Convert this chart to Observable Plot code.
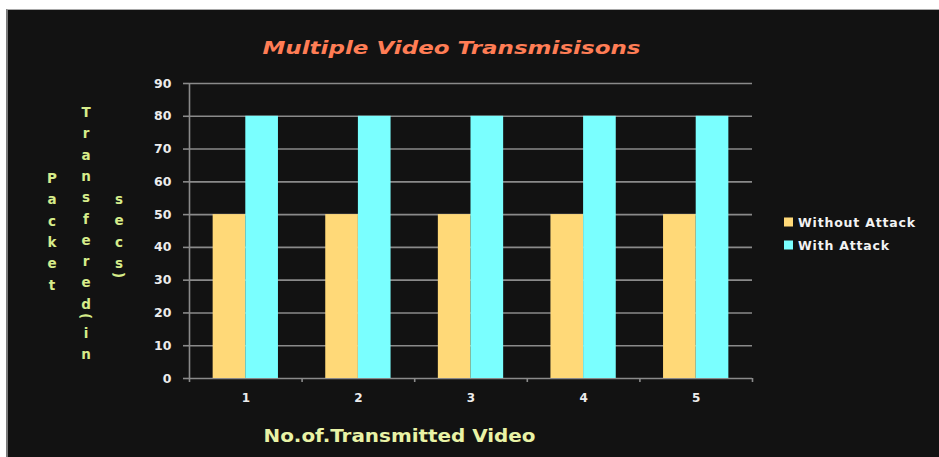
<!DOCTYPE html>
<html>
<head>
<meta charset="utf-8">
<script src="https://cdn.jsdelivr.net/npm/d3@7"></script>
<script src="https://cdn.jsdelivr.net/npm/@observablehq/plot@0.6"></script>
<style>
  html, body { margin: 0; padding: 0; background: #ffffff; }
  #wrap { position: relative; width: 939px; height: 457px; overflow: hidden; }
  #bg { position: absolute; left: 6px; top: 9px; width: 933px; height: 448px; background: #121212;
        border-top: 1px solid #a8a8a8; border-left: 2px solid #7a7a7a; box-sizing: border-box; }
  #chart { position: absolute; left: 0; top: 0; }
</style>
</head>
<body>
<div id="wrap"><div id="bg"></div><div id="chart"></div></div>
<script>
const categories = [1, 2, 3, 4, 5];
const seriesNames = ["Without Attack", "With Attack"];
const withoutAttack = [50, 50, 50, 50, 50];
const withAttack = [80, 80, 80, 80, 80];
const yTicks = [0, 10, 20, 30, 40, 50, 60, 70, 80, 90];
const seriesColors = ["#ffd978", "#7affff"];
const titleText = "Multiple Video Transmisisons";
const xLabel = "No.of.Transmitted Video";
const yLabelColumns = ["Packet", "Transfered(in", "secs)"];

const rows = [];
categories.forEach((c, i) => {
  rows.push({cat: c, series: seriesNames[0], value: withoutAttack[i]});
  rows.push({cat: c, series: seriesNames[1], value: withAttack[i]});
});
const half = 0.29;
const boundaries = categories.map(c => c - 0.5).concat([categories[categories.length - 1] + 0.5]);
const font = "'DejaVu Sans', 'Liberation Sans', sans-serif";

const chart = Plot.plot({
  width: 939,
  height: 457,
  marginLeft: 189,
  marginRight: 187,
  marginTop: 83,
  marginBottom: 79,
  style: {background: "transparent", fontFamily: font},
  x: {domain: [0.5, 5.5], axis: null},
  y: {domain: [0, 90], axis: null},
  color: {domain: seriesNames, range: seriesColors},
  marks: [
    Plot.ruleY(yTicks, {stroke: "#8a8a8a", strokeWidth: 1.6}),
    Plot.axisY(yTicks, {tickSize: 6, tickPadding: 12, stroke: "#8a8a8a", strokeWidth: 1.6,
      fill: "#ececec", fontSize: 12.5, fontWeight: "bold", label: null}),
    Plot.axisX(boundaries, {tickSize: 4, tickFormat: () => "", stroke: "#8a8a8a", strokeWidth: 1.6, label: null}),
    Plot.ruleX([0.5], {y1: 0, y2: 90, stroke: "#8a8a8a", strokeWidth: 1.6}),
    Plot.rectY(rows, {
      x1: d => d.series === seriesNames[0] ? d.cat - half : d.cat,
      x2: d => d.series === seriesNames[0] ? d.cat : d.cat + half,
      y1: 0, y2: "value", fill: "series"
    }),
    Plot.axisX(categories, {tickSize: 0, tickPadding: 15, fill: "#ececec", fontSize: 12,
      fontWeight: "bold", label: null}),
    Plot.text([titleText], {frameAnchor: "top", dx: -19.5, dy: -30, fill: "#ff7d55",
      fontSize: 17, fontStyle: "italic", fontWeight: "bold", text: d => d, lineAnchor: "bottom",
      className: "ttl"}),
    Plot.text([xLabel], {frameAnchor: "bottom", dx: -71.5, dy: 63, fill: "#e9f3a6",
      fontSize: 18, fontWeight: "bold", text: d => d, lineAnchor: "bottom", className: "xlab"})
  ]
});
document.getElementById("chart").appendChild(chart);

const svg = d3.select(chart);
svg.selectAll("g.ttl text").attr("textLength", 378).attr("lengthAdjust", "spacingAndGlyphs");
svg.selectAll("g.xlab text").attr("textLength", 272).attr("lengthAdjust", "spacingAndGlyphs");

// stacked y-axis label
const colX = [52, 86, 119];
const colY0 = [178, 112, 199];
const step = 21.3;
yLabelColumns.forEach((word, ci) => {
  let y = colY0[ci];
  Array.from(word).forEach(ch => {
    const isParen = ch === "(" || ch === ")";
    const t = svg.append("text")
      .attr("fill", "#d6ec8a")
      .attr("font-family", font)
      .attr("font-weight", "bold")
      .attr("font-size", 13.5)
      .attr("text-anchor", "middle")
      .attr("dominant-baseline", "central")
      .text(ch);
    if (isParen) {
      const py = y - 9;
      t.attr("transform", `translate(${colX[ci]},${py}) rotate(90)`);
      y += 8;
    } else {
      t.attr("x", colX[ci]).attr("y", y);
      y += step;
    }
  });
});

// legend
const lg = svg.append("g").attr("transform", "translate(784,222)");
seriesNames.forEach((name, i) => {
  const g = lg.append("g").attr("transform", `translate(0,${i * 23})`);
  g.append("rect").attr("x", 0).attr("y", -4.5).attr("width", 9).attr("height", 9).attr("fill", seriesColors[i]);
  g.append("text").attr("x", 14).attr("y", 0).attr("dominant-baseline", "central")
    .attr("text-anchor", "start")
    .attr("fill", "#f2f2f2").attr("font-family", font).attr("font-weight", "bold")
    .attr("font-size", 12.5).attr("letter-spacing", "0.8px").text(name);
});
</script>
</body>
</html>
